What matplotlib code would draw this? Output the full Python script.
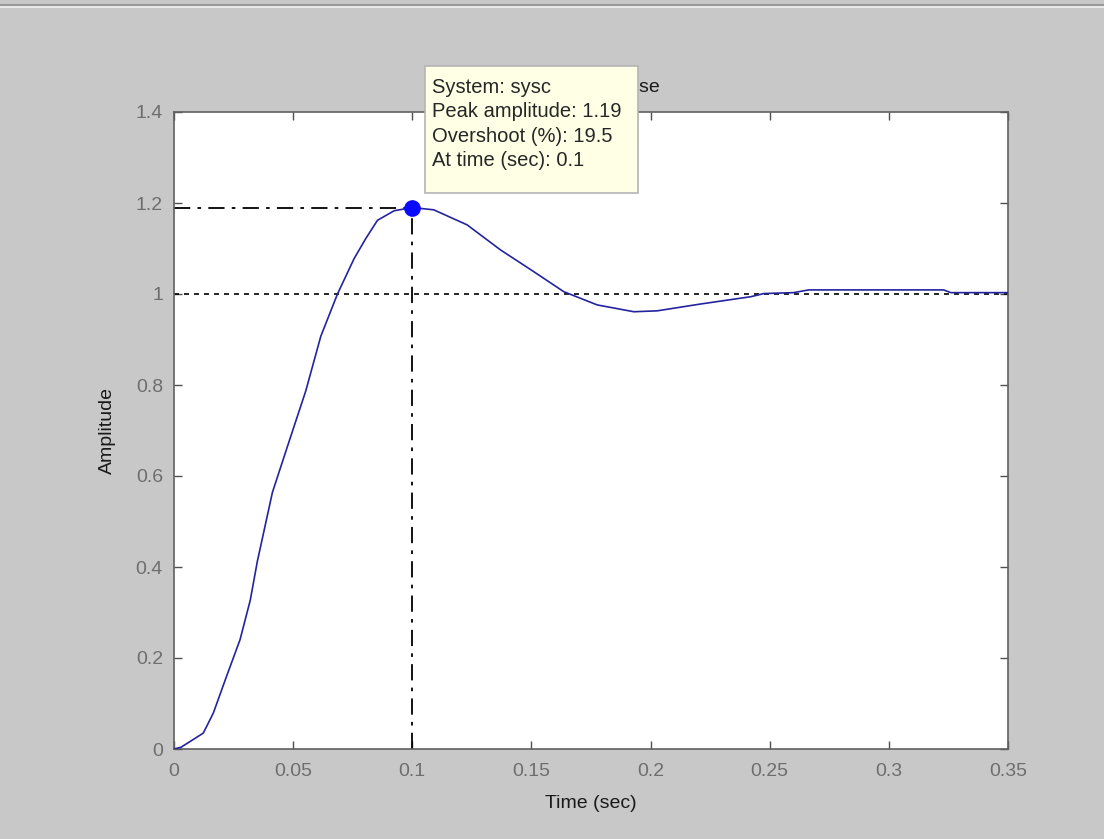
import matplotlib
matplotlib.use("Agg")
import matplotlib.pyplot as plt
from matplotlib.lines import Line2D
from matplotlib.patches import Rectangle

time = [0, 0.003, 0.0123, 0.0165, 0.022, 0.0277, 0.032, 0.035, 0.0413, 0.0483,
        0.0553, 0.0616, 0.0686, 0.0756, 0.0805, 0.0854, 0.0924, 0.1, 0.109, 0.123,
        0.137, 0.151, 0.1636, 0.1776, 0.193, 0.2028, 0.221, 0.242, 0.2476, 0.26,
        0.2664, 0.323, 0.326, 0.35]
amplitude = [0, 0.004, 0.035, 0.079, 0.159, 0.24, 0.327, 0.413, 0.564, 0.676,
             0.787, 0.907, 1.0, 1.078, 1.122, 1.162, 1.183, 1.19, 1.185, 1.152,
             1.097, 1.049, 1.005, 0.976, 0.961, 0.963, 0.978, 0.994, 1.001, 1.003,
             1.009, 1.009, 1.003, 1.003]
peak_time = 0.1
peak_amp = 1.19
final_value = 1.0
xticks = [0, 0.05, 0.1, 0.15, 0.2, 0.25, 0.3, 0.35]
xticklabels = ["0", "0.05", "0.1", "0.15", "0.2", "0.25", "0.3", "0.35"]
yticks = [0, 0.2, 0.4, 0.6, 0.8, 1.0, 1.2, 1.4]
yticklabels = ["0", "0.2", "0.4", "0.6", "0.8", "1", "1.2", "1.4"]
tip_lines = ["System: sysc", "Peak amplitude: 1.19", "Overshoot (%): 19.5", "At time (sec): 0.1"]

plt.rcParams['font.family'] = ['Liberation Sans', 'DejaVu Sans']
FS = 14

W, H = 1104, 839
fig = plt.figure(figsize=(W / 100, H / 100), dpi=100, facecolor='#c8c8c8')
ax = fig.add_axes([174 / W, 1 - 749 / H, 834 / W, 637 / H])
ax.set_facecolor('white')

ax.plot(time, amplitude, color='#2323a0', lw=1.2, zorder=3)
ax.axhline(final_value, color='black', lw=1.2, ls=(0, (3, 3)), zorder=2)
ax.plot([0, peak_time], [peak_amp, peak_amp], color='black', lw=1.3,
        ls=(0, (9, 4, 2, 4)), zorder=2)
ax.plot([peak_time, peak_time], [0, peak_amp], color='black', lw=1.3,
        ls=(0, (9, 4, 2, 4)), zorder=2)
ax.plot([peak_time], [peak_amp], 'o', color='#0a0aff', ms=11, zorder=4)

ax.set_xlim(0, 0.35)
ax.set_ylim(0, 1.4)
ax.set_xticks(xticks)
ax.set_xticklabels(xticklabels)
ax.set_yticks(yticks)
ax.set_yticklabels(yticklabels)
ax.tick_params(direction='in', top=True, right=True, length=6, width=1,
               color='#505050', labelcolor='#6e6e6e', labelsize=FS)
ax.tick_params(axis='x', pad=10)
ax.tick_params(axis='y', pad=8)
for s in ax.spines.values():
    s.set_color('#606060')
    s.set_linewidth(1.2)

# Axis labels
fig.text(591 / W, 1 - 804 / H, "Time (sec)", ha='center', va='center',
         fontsize=FS, color='#1a1a1a')
fig.text(107 / W, 1 - 430 / H, "Amplitude", ha='center', va='center',
         rotation=90, fontsize=FS, color='#1a1a1a')

# Title (mostly hidden by the data tip)
fig.text(593 / W, 1 - 87 / H, "Step Response", ha='center', va='center',
         fontsize=FS, color='#1a1a1a')

# Data tip box
fig.add_artist(Rectangle((425 / W, 1 - 193 / H), 213 / W, 127 / H,
                         transform=fig.transFigure, facecolor='#ffffe6',
                         edgecolor='#b4b4b4', lw=1.2, zorder=9))
for i, line in enumerate(tip_lines):
    fig.text(432 / W, 1 - (87.5 + 24.3 * i) / H, line, ha='left', va='center',
             fontsize=14.5, color='#262626', zorder=10)

# window top border
fig.add_artist(Line2D([0, 1], [1 - 4.5 / H, 1 - 4.5 / H], transform=fig.transFigure,
                      color='#9a9a9a', lw=1.5))
fig.add_artist(Line2D([0, 1], [1 - 6.5 / H, 1 - 6.5 / H], transform=fig.transFigure,
                      color='#f0f0f0', lw=1.2))

fig.savefig("out.png", dpi=100, facecolor=fig.get_facecolor())
